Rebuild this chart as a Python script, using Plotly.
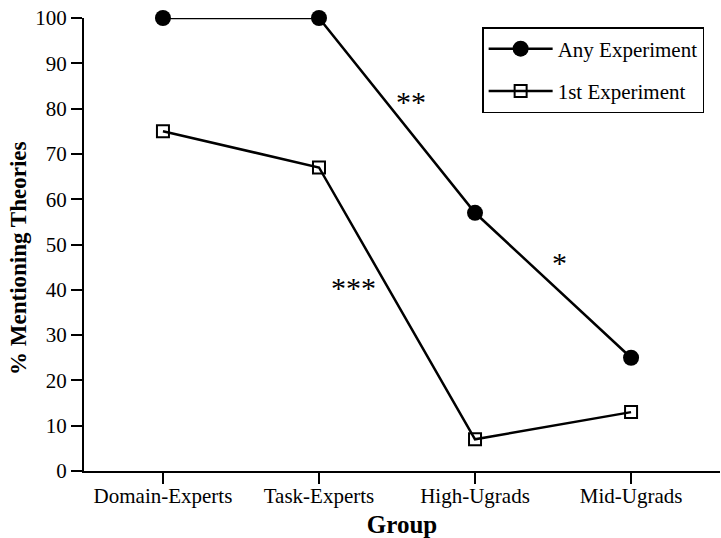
import plotly.graph_objects as go

groups = ["Domain-Experts", "Task-Experts", "High-Ugrads", "Mid-Ugrads"]
any_experiment = [100, 100, 57, 25]
first_experiment = [75, 67, 7, 13]
y_ticks = [0, 10, 20, 30, 40, 50, 60, 70, 80, 90, 100]

# significance markers: (x position in category units, y value, text)
sig_x = [1.59, 2.54, 1.22]
sig_y = [81.5, 46, 40.5]
sig_text = ["**", "*", "***"]

FONT = "Liberation Serif, Times New Roman, serif"
xi = list(range(len(groups)))

fig = go.Figure()
fig.add_trace(go.Scatter(
    x=xi, y=any_experiment, mode="lines+markers", name="Any Experiment",
    legendgroup="a",
    line=dict(color="black", width=2.5),
    marker=dict(symbol="circle", size=16, color="black"),
    cliponaxis=False,
))
fig.add_trace(go.Scatter(
    x=xi, y=first_experiment, mode="lines+markers", name="1st Experiment",
    legendgroup="b",
    line=dict(color="black", width=2.5),
    marker=dict(symbol="square-open", size=12, color="black", line=dict(width=2)),
    cliponaxis=False,
))

for x, y, t in zip(sig_x, sig_y, sig_text):
    fig.add_annotation(x=x, y=y, text=t, showarrow=False,
                       font=dict(family=FONT, size=30, color="black"))

# y-axis title
fig.add_annotation(
    xref="paper", yref="y", x=-0.104, y=47, text="<b>% Mentioning Theories</b>",
    textangle=-90, showarrow=False, xanchor="center", yanchor="middle",
    font=dict(family=FONT, size=23, color="black"),
)

fig.update_layout(
    width=721, height=538,
    margin=dict(l=84, r=1, t=18, b=67),
    plot_bgcolor="white", paper_bgcolor="white",
    font=dict(family=FONT, size=21, color="black"),
    showlegend=True,
    legend=dict(
        x=0.626, y=0.98, xanchor="left", yanchor="top",
        bordercolor="black", borderwidth=1.5,
        font=dict(family=FONT, size=21),
        tracegroupgap=12,
        itemwidth=64,
    ),
    xaxis=dict(
        range=[-0.506, 3.57],
        tickmode="array", tickvals=xi, ticktext=groups,
        showgrid=False, zeroline=False,
        showline=True, linecolor="black", linewidth=2,
        ticks="outside", ticklen=11, tickwidth=2, tickcolor="black",
        ticklabelstandoff=-6,
        title=dict(text="<b>Group</b>", font=dict(family=FONT, size=25), standoff=8),
        tickfont=dict(family=FONT, size=21),
    ),
    yaxis=dict(
        range=[0, 100],
        tickmode="array", tickvals=y_ticks,
        showgrid=False, zeroline=False,
        showline=True, linecolor="black", linewidth=2,
        ticks="outside", ticklen=11, tickwidth=2, tickcolor="black",
        tickfont=dict(family=FONT, size=21),
    ),
)

fig.write_html("out.html")
